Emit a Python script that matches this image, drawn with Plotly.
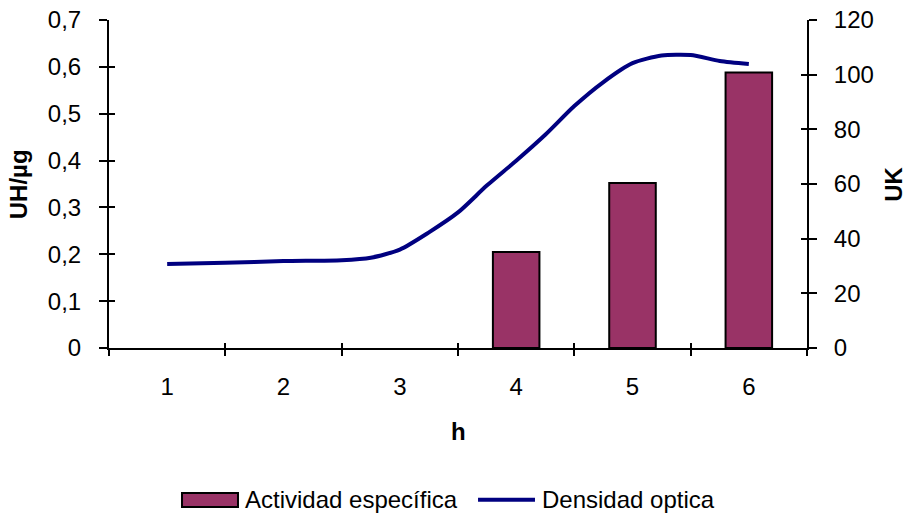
import plotly.graph_objects as go

# Hourly measurements
hours = [1, 2, 3, 4, 5, 6]
hour_labels = ["1", "2", "3", "4", "5", "6"]
actividad = [None, None, None, 0.205, 0.352, 0.588]          # UH/µg

# Optical density readings (plotted on the UK axis)
t_densidad = [1.0, 1.5, 2.0, 2.5, 2.75, 3.0, 3.25, 3.5, 3.75, 4.0,
              4.25, 4.5, 4.75, 5.0, 5.25, 5.5, 5.75, 6.0]
densidad = [30.7, 31.2, 31.8, 32.1, 33.0, 36.0, 42.3, 49.6, 59.5, 68.5,
            78.0, 88.5, 97.3, 104.2, 107.0, 107.2, 105.0, 103.9]

left_ticks = [0, 0.1, 0.2, 0.3, 0.4, 0.5, 0.6, 0.7]
right_ticks = [0, 20, 40, 60, 80, 100, 120]
boundaries = [0.5, 1.5, 2.5, 3.5, 4.5, 5.5, 6.5]

FONT = "Arial, Liberation Sans, sans-serif"
BLACK = "#000000"
BAR_COLOR = "#993366"
LINE_COLOR = "#000080"
FS = 24

fig = go.Figure()

fig.add_trace(go.Bar(
    x=hours, y=actividad, name="Actividad específica",
    width=0.4, showlegend=False,
    marker=dict(color=BAR_COLOR, line=dict(color=BLACK, width=2)),
    xaxis="x", yaxis="y",
))

fig.add_trace(go.Scatter(
    x=t_densidad, y=densidad, name="Densidad optica", showlegend=False,
    mode="lines", line=dict(color=LINE_COLOR, width=4, shape="spline", smoothing=0.7),
    xaxis="x", yaxis="y2",
))

# helper traces so the overlay axes (inner half of the crossing ticks) get drawn
fig.add_trace(go.Scatter(x=[1], y=[0], mode="lines", showlegend=False,
                         hoverinfo="skip", xaxis="x2", yaxis="y3"))
fig.add_trace(go.Scatter(x=[1], y=[0], mode="lines", showlegend=False,
                         hoverinfo="skip", xaxis="x", yaxis="y4"))

tick_font = dict(family=FONT, size=FS, color=BLACK)
text_font = dict(family=FONT, size=FS, color=BLACK)

# legend key drawn below the plot
legend_y = -0.463
shapes = [
    dict(type="rect", xref="paper", yref="paper", x0=0.1046, x1=0.1848,
         y0=-0.4848, y1=-0.442, fillcolor=BAR_COLOR, line=dict(color=BLACK, width=2)),
    dict(type="line", xref="paper", yref="paper", x0=0.5287, x1=0.6103,
         y0=legend_y, y1=legend_y, line=dict(color=LINE_COLOR, width=4)),
]

fig.update_layout(
    width=911, height=517,
    margin=dict(l=109, r=104, t=20, b=169, autoexpand=False),
    paper_bgcolor="white", plot_bgcolor="white",
    separators=", ",
    font=text_font,
    showlegend=False,
    xaxis=dict(
        range=[0.5, 6.5], tickmode="array", tickvals=hours, ticktext=hour_labels,
        ticks="", ticklabelstandoff=16, tickfont=tick_font,
        showline=True, linecolor=BLACK, linewidth=2, showgrid=False, zeroline=False,
        minor=dict(tickmode="array", tickvals=boundaries, ticks="outside",
                   ticklen=6, tickwidth=1.5, tickcolor=BLACK),
        anchor="y",
    ),
    xaxis2=dict(
        overlaying="x", range=[0.5, 6.5], tickmode="array", tickvals=boundaries,
        ticks="inside", ticklen=5, tickwidth=1.5, tickcolor=BLACK,
        showticklabels=False, showline=False, showgrid=False, zeroline=False,
        anchor="y", side="bottom",
    ),
    yaxis=dict(
        range=[0, 0.7], tickmode="array", tickvals=left_ticks,
        ticks="outside", ticklen=8, tickwidth=1.5, tickcolor=BLACK,
        ticklabelstandoff=13, tickfont=tick_font,
        showline=True, linecolor=BLACK, linewidth=2, showgrid=False, zeroline=False,
        anchor="x",
    ),
    yaxis3=dict(
        overlaying="y", range=[0, 0.7], tickmode="array", tickvals=left_ticks,
        ticks="inside", ticklen=6, tickwidth=1.5, tickcolor=BLACK,
        showticklabels=False, showline=False, showgrid=False, zeroline=False,
        anchor="x", side="left",
    ),
    yaxis2=dict(
        overlaying="y", side="right", range=[0, 120], tickmode="array", tickvals=right_ticks,
        ticks="outside", ticklen=8, tickwidth=1.5, tickcolor=BLACK,
        ticklabelstandoff=12, tickfont=tick_font,
        showline=True, linecolor=BLACK, linewidth=2, showgrid=False, zeroline=False,
        anchor="x",
    ),
    yaxis4=dict(
        overlaying="y", side="right", range=[0, 120], tickmode="array", tickvals=right_ticks,
        ticks="inside", ticklen=6, tickwidth=1.5, tickcolor=BLACK,
        showticklabels=False, showline=False, showgrid=False, zeroline=False,
        anchor="x",
    ),
    shapes=shapes,
    annotations=[
        dict(text="<b>UH/µg</b>", xref="paper", yref="paper", x=-0.130, y=0.5,
             textangle=-90, showarrow=False, xanchor="center", yanchor="middle",
             font=text_font),
        dict(text="<b>UK</b>", xref="paper", yref="paper", x=1.123, y=0.5,
             textangle=-90, showarrow=False, xanchor="center", yanchor="middle",
             font=text_font),
        dict(text="<b>h</b>", xref="paper", yref="paper", x=0.5, y=-0.256,
             showarrow=False, xanchor="center", yanchor="middle", font=text_font),
        dict(text="Actividad específica", xref="paper", yref="paper", x=0.192, y=legend_y,
             showarrow=False, xanchor="left", yanchor="middle", font=text_font),
        dict(text="Densidad optica", xref="paper", yref="paper", x=0.6175, y=legend_y,
             showarrow=False, xanchor="left", yanchor="middle", font=text_font),
    ],
)

fig.write_html("out.html")
